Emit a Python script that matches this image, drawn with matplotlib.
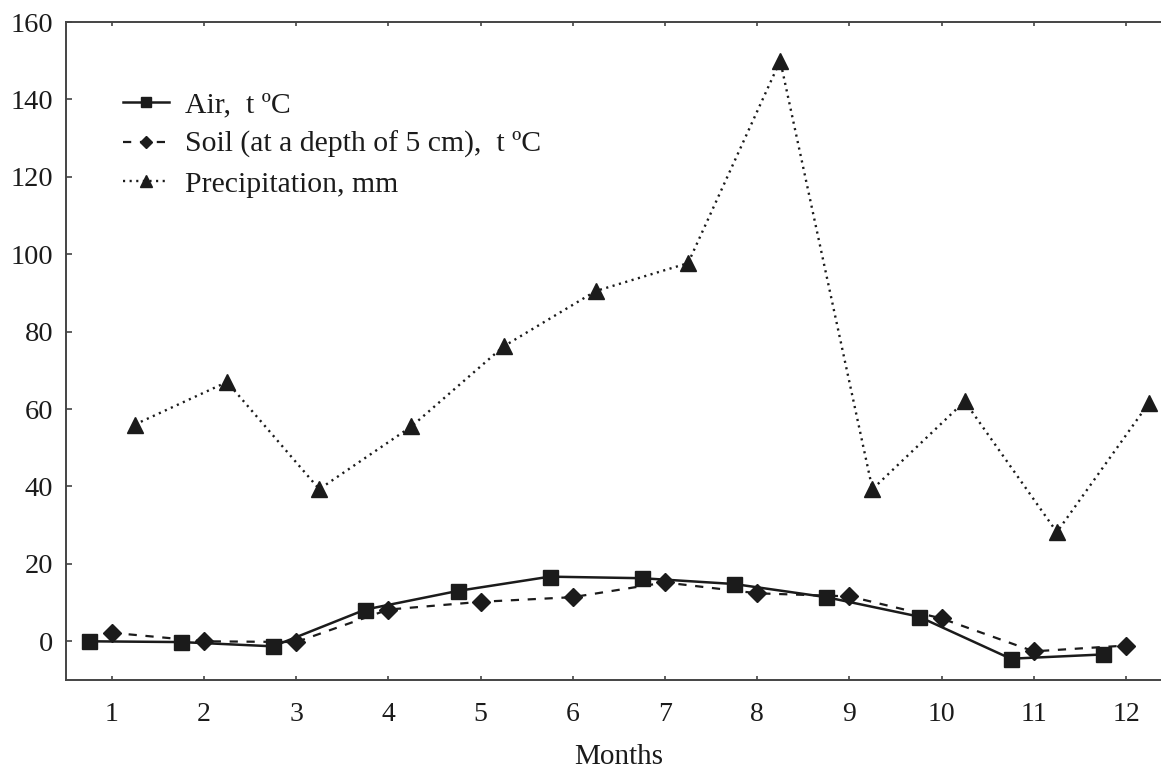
import matplotlib.pyplot as plt
import numpy as np

months = np.arange(1, 13)
air = [0, -0.2, -1.3, 8.2, 13.0, 16.7, 16.3, 14.8, 11.4, 6.4, -4.5, -3.4]
soil = [2.2, 0, -0.2, 8.2, 10.2, 11.4, 15.2, 12.4, 11.6, 5.9, -2.6, -1.1]
precip = [56, 67, 39.3, 55.5, 76.2, 90.5, 97.7, 150, 39.3, 62, 28.2, 61.6]

labels = ['Air,  t ºC', 'Soil (at a depth of 5 cm),  t ºC', 'Precipitation, mm']

plt.rcParams['font.family'] = ['Liberation Serif', 'DejaVu Serif']
ink = '#1b1b1b'

fig = plt.figure(figsize=(11.61, 7.70), dpi=100)
ax = fig.add_axes([65.7 / 1161, 90 / 770, 1106.4 / 1161, 658 / 770])

ax.plot(months - 0.25, air, color=ink, lw=1.8, ls='-', marker='s', ms=10.8,
        label=labels[0])
ax.plot(months, soil, color=ink, lw=1.6, ls=(0, (3.7, 3.9)), marker='D', ms=9.5,
        label=labels[1])
ax.plot(months + 0.25, precip, color=ink, lw=1.7, ls=(0, (0.9, 1.9)), marker='^', ms=12,
        label=labels[2])

ax.set_xlim(0.5, 12.5)
ax.set_ylim(-10, 160)
ax.set_xticks(months)
ax.set_yticks(np.arange(0, 161, 20))

for s in ax.spines.values():
    s.set_color('#444444')
    s.set_linewidth(1.4)
ax.spines['right'].set_visible(False)

ax.tick_params(axis='x', direction='in', length=3, width=1.2,
               color='#444444', top=True, labelsize=20, pad=16, labelcolor=ink)
ax.tick_params(axis='y', direction='in', length=4, width=1.2, color='#444444',
               labelsize=20.5, pad=9, labelcolor=ink)

ax.set_xlabel('Months', fontsize=21, color=ink, labelpad=12)

ax.legend(loc='upper left', bbox_to_anchor=(0.052, 0.894), frameon=False,
          fontsize=21.4, handlelength=1.55, handletextpad=0.52, labelspacing=0.42,
          markerscale=0.68, borderpad=0, borderaxespad=0, labelcolor=ink)

fig.savefig('out.png', dpi=100)
